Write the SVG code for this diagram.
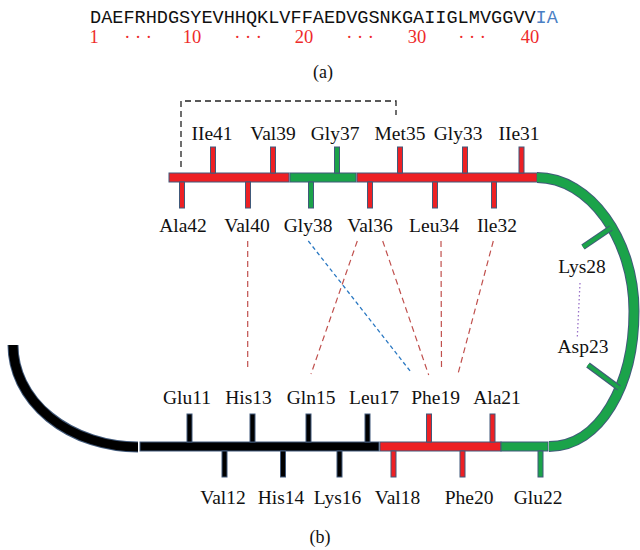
<svg xmlns="http://www.w3.org/2000/svg" width="640" height="550" viewBox="0 0 640 550">
<style>
.lbl{font-family:"Liberation Serif","Times New Roman",serif;font-size:19.5px;fill:#111;text-anchor:middle}
.num{font-family:"Liberation Serif","Times New Roman",serif;font-size:18.5px;fill:#ee2a2a;text-anchor:middle}
.cap{font-family:"Liberation Serif","Times New Roman",serif;font-size:18px;fill:#111;text-anchor:middle}
.seq{font-family:"Liberation Mono","Courier New",monospace;font-size:18.57px;fill:#111}
.r{fill:#ed2024;stroke:#41597a;stroke-width:1}
.g{fill:#1ba34a;stroke:#41597a;stroke-width:1}
.k{fill:#000;stroke:#41597a;stroke-width:1}
.rd{fill:none;stroke:#c0504d;stroke-width:1.2;stroke-dasharray:6 4}
.bd{fill:none;stroke:#2a78c2;stroke-width:1.3;stroke-dasharray:4 3}
</style>

<g id="sequence">
<text class="seq" x="90" y="22.5">DAEFRHDGSYEVHHQKLVFFAEDVGSNKGAIIGLMVGGVV<tspan fill="#4a80c4">IA</tspan></text>
<text class="num" x="94" y="43">1</text>
<text class="num" x="138" y="43">· · ·</text>
<text class="num" x="192" y="43">10</text>
<text class="num" x="248" y="43">· · ·</text>
<text class="num" x="304" y="43">20</text>
<text class="num" x="360" y="43">· · ·</text>
<text class="num" x="417" y="43">30</text>
<text class="num" x="472" y="43">· · ·</text>
<text class="num" x="530" y="43">40</text>
<text class="cap" x="323" y="78">(a)</text>
</g>

<g id="upper-backbone">
<rect class="r" x="169" y="173" width="120" height="9"/>
<rect class="g" x="290" y="173" width="66" height="9"/>
<rect class="r" x="357" y="173" width="180" height="9"/>
</g>

<g id="turn-arc">
<path d="M537,177.5 C590,177.5 634,240 634,311 C634,385 600,446.5 549,446.5" fill="none" stroke="#41597a" stroke-width="11"/>
<path d="M537,177.5 C590,177.5 634,240 634,311 C634,385 600,446.5 549,446.5" fill="none" stroke="#1ba34a" stroke-width="9"/>
</g>

<g id="lower-backbone">
<path d="M13,345 A125,102 0 0 0 138,447" fill="none" stroke="#41597a" stroke-width="11"/>
<path d="M13,345 A125,102 0 0 0 138,447" fill="none" stroke="#000" stroke-width="9"/>
<rect class="k" x="140" y="442" width="239" height="9"/>
<rect class="r" x="380" y="442" width="121" height="9"/>
<rect class="g" x="501" y="442" width="47" height="9"/>
</g>

<!-- upper strand residues -->
<g id="Ile41"><rect class="r" x="210.5" y="147" width="5" height="26"/><text class="lbl" x="212" y="140">IIe41</text></g>
<g id="Val39"><rect class="r" x="270.5" y="147" width="5" height="26"/><text class="lbl" x="273" y="140">Val39</text></g>
<g id="Gly37"><rect class="g" x="334.5" y="147" width="5" height="26"/><text class="lbl" x="335" y="140">Gly37</text></g>
<g id="Met35"><rect class="r" x="397.5" y="147" width="5" height="26"/><text class="lbl" x="400" y="140">Met35</text></g>
<g id="Gly33"><rect class="r" x="462.5" y="147" width="5" height="26"/><text class="lbl" x="458" y="140">Gly33</text></g>
<g id="Ile31"><rect class="r" x="519" y="147" width="5" height="26"/><text class="lbl" x="519" y="140">IIe31</text></g>

<g id="Ala42"><rect class="r" x="179.5" y="182" width="5" height="26"/><text class="lbl" x="183" y="232">Ala42</text></g>
<g id="Val40"><rect class="r" x="245.5" y="182" width="5" height="26"/><text class="lbl" x="247" y="232">Val40</text></g>
<g id="Gly38"><rect class="g" x="308.5" y="182" width="5" height="26"/><text class="lbl" x="308" y="232">Gly38</text></g>
<g id="Val36"><rect class="r" x="367.5" y="182" width="5" height="26"/><text class="lbl" x="370" y="232">Val36</text></g>
<g id="Leu34"><rect class="r" x="432.5" y="182" width="5" height="26"/><text class="lbl" x="434" y="232">Leu34</text></g>
<g id="Ile32"><rect class="r" x="491.5" y="182" width="5" height="26"/><text class="lbl" x="497" y="232">Ile32</text></g>

<!-- turn residues -->
<g id="Lys28">
<line x1="583" y1="247" x2="611" y2="228" stroke="#41597a" stroke-width="6"/>
<line x1="583" y1="247" x2="611" y2="228" stroke="#1ba34a" stroke-width="4"/>
<text class="lbl" x="582" y="273">Lys28</text>
</g>
<g id="Asp23">
<line x1="588" y1="365" x2="619" y2="388" stroke="#41597a" stroke-width="6"/>
<line x1="588" y1="365" x2="619" y2="388" stroke="#1ba34a" stroke-width="4"/>
<text class="lbl" x="583" y="353">Asp23</text>
</g>

<!-- lower strand residues -->
<g id="Glu11"><rect class="k" x="187" y="414" width="5" height="28"/><text class="lbl" x="187" y="404">Glu11</text></g>
<g id="His13"><rect class="k" x="250" y="414" width="5" height="28"/><text class="lbl" x="248.5" y="404">His13</text></g>
<g id="Gln15"><rect class="k" x="306" y="414" width="5" height="28"/><text class="lbl" x="311" y="404">Gln15</text></g>
<g id="Leu17"><rect class="k" x="365" y="414" width="5" height="28"/><text class="lbl" x="374" y="404">Leu17</text></g>
<g id="Phe19"><rect class="r" x="426.5" y="414" width="5" height="28"/><text class="lbl" x="435.5" y="404">Phe19</text></g>
<g id="Ala21"><rect class="r" x="490" y="414" width="5" height="28"/><text class="lbl" x="497" y="404">Ala21</text></g>

<g id="Val12"><rect class="k" x="222" y="451" width="5" height="26"/><text class="lbl" x="223" y="503.5">Val12</text></g>
<g id="His14"><rect class="k" x="280.5" y="451" width="5" height="26"/><text class="lbl" x="281" y="503.5">His14</text></g>
<g id="Lys16"><rect class="k" x="337" y="451" width="5" height="26"/><text class="lbl" x="337.5" y="503.5">Lys16</text></g>
<g id="Val18"><rect class="r" x="391" y="451" width="5" height="26"/><text class="lbl" x="397.5" y="503.5">Val18</text></g>
<g id="Phe20"><rect class="r" x="460" y="451" width="5" height="26"/><text class="lbl" x="469" y="503.5">Phe20</text></g>
<g id="Glu22"><rect class="g" x="538" y="451" width="5" height="26"/><text class="lbl" x="538" y="503.5">Glu22</text></g>

<g id="connectors">
<path d="M181,167 V101 H396 V115" fill="none" stroke="#222" stroke-width="1.3" stroke-dasharray="6 4"/>
<line class="rd" x1="247.7" y1="241" x2="247.7" y2="368"/>
<line class="rd" x1="357.3" y1="241" x2="311" y2="374"/>
<line class="rd" x1="382.7" y1="241" x2="428.7" y2="375"/>
<line class="rd" x1="441" y1="241" x2="441.5" y2="368"/>
<line class="rd" x1="493.3" y1="241" x2="457.7" y2="375"/>
<line class="bd" x1="308.3" y1="241" x2="411.7" y2="373"/>
<line x1="580" y1="283" x2="577.3" y2="337" fill="none" stroke="#9a73c8" stroke-width="1.3" stroke-dasharray="1.5 2.5"/>
</g>

<text class="cap" x="320" y="543">(b)</text>
</svg>
